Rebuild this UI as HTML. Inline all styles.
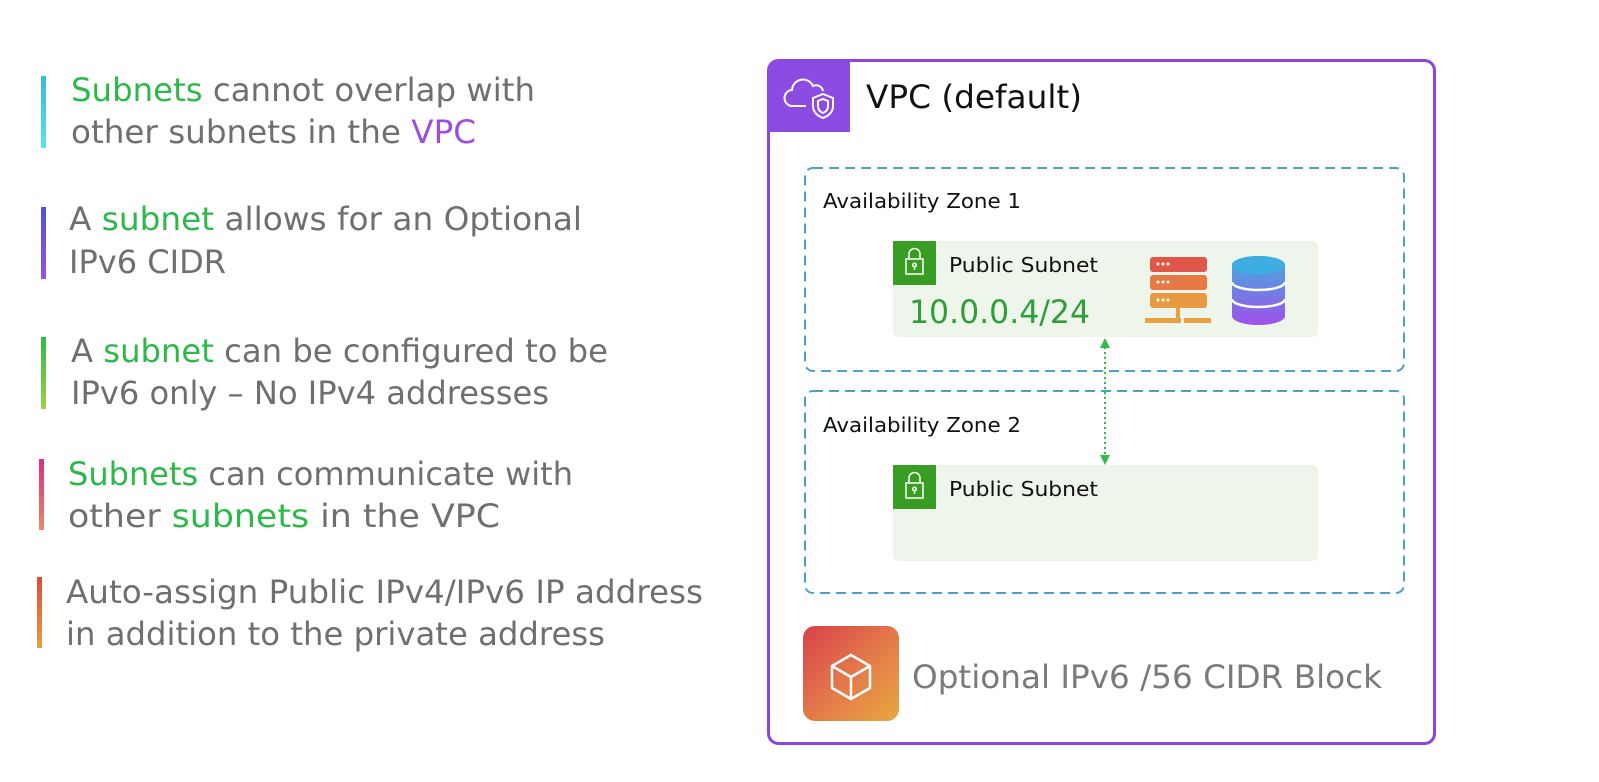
<!DOCTYPE html>
<html><head><meta charset="utf-8"><style>
html,body{margin:0;padding:0;background:#fff;}
svg{display:block;}
text{font-family:"DejaVu Sans","Liberation Sans",sans-serif;}
</style></head><body>
<svg width="1599" height="782" viewBox="0 0 1599 782" xmlns="http://www.w3.org/2000/svg">
<defs>
<linearGradient id="b1" x1="0" y1="0" x2="0" y2="1"><stop offset="0" stop-color="#36b8e8"/><stop offset="1" stop-color="#5ee0f0"/></linearGradient>
<linearGradient id="b2" x1="0" y1="0" x2="0" y2="1"><stop offset="0" stop-color="#4d55d8"/><stop offset="1" stop-color="#9a4fe0"/></linearGradient>
<linearGradient id="b3" x1="0" y1="0" x2="0" y2="1"><stop offset="0" stop-color="#2fb84a"/><stop offset="1" stop-color="#9ad24a"/></linearGradient>
<linearGradient id="b4" x1="0" y1="0" x2="0" y2="1"><stop offset="0" stop-color="#d8307a"/><stop offset="1" stop-color="#e88a6a"/></linearGradient>
<linearGradient id="b5" x1="0" y1="0" x2="0" y2="1"><stop offset="0" stop-color="#e04a3a"/><stop offset="1" stop-color="#e8a040"/></linearGradient>
<linearGradient id="ob" x1="0" y1="0" x2="1" y2="1"><stop offset="0" stop-color="#d9404a"/><stop offset="0.5" stop-color="#e3784a"/><stop offset="1" stop-color="#e8a840"/></linearGradient>
<linearGradient id="db" x1="0" y1="0" x2="0" y2="1"><stop offset="0" stop-color="#3fb0e0"/><stop offset="1" stop-color="#a050e8"/></linearGradient>
</defs>

<g font-size="32" fill="#6f6f6f">
<rect x="41" y="76" width="5" height="72" fill="url(#b1)"/>
<text x="71" y="101" textLength="464" lengthAdjust="spacingAndGlyphs"><tspan fill="#2db84a">Subnets</tspan> cannot overlap with</text>
<text x="71" y="143" textLength="405" lengthAdjust="spacingAndGlyphs">other subnets in the <tspan fill="#9b4ee0">VPC</tspan></text>

<rect x="41" y="207" width="5" height="72" fill="url(#b2)"/>
<text x="69" y="230" textLength="513" lengthAdjust="spacingAndGlyphs">A <tspan fill="#2db84a">subnet</tspan> allows for an Optional</text>
<text x="69" y="273" textLength="157" lengthAdjust="spacingAndGlyphs">IPv6 CIDR</text>

<rect x="41" y="337" width="5" height="72" fill="url(#b3)"/>
<text x="71" y="362" textLength="537" lengthAdjust="spacingAndGlyphs">A <tspan fill="#2db84a">subnet</tspan> can be configured to be</text>
<text x="71" y="404" textLength="478" lengthAdjust="spacingAndGlyphs">IPv6 only – No IPv4 addresses</text>

<rect x="39" y="459" width="5" height="71" fill="url(#b4)"/>
<text x="68" y="485" textLength="505" lengthAdjust="spacingAndGlyphs"><tspan fill="#2db84a">Subnets</tspan> can communicate with</text>
<text x="68" y="527" textLength="432" lengthAdjust="spacingAndGlyphs">other <tspan fill="#2db84a">subnets</tspan> in the VPC</text>

<rect x="37" y="577" width="5" height="71" fill="url(#b5)"/>
<text x="66" y="603" textLength="637" lengthAdjust="spacingAndGlyphs">Auto-assign Public IPv4/IPv6 IP address</text>
<text x="66" y="645" textLength="539" lengthAdjust="spacingAndGlyphs">in addition to the private address</text>
</g>

<!-- VPC -->
<rect x="768.5" y="60.5" width="666" height="683" rx="10" fill="#fff" stroke="#8a44e0" stroke-width="3"/>
<path d="M768 70 Q768 60 778 60 L850 60 L850 132 L768 132 Z" fill="#8c4be2"/>
<g fill="none" stroke="#fff" stroke-width="2">
<path d="M806 106 h-13 a8 8 0 0 1 -1 -16 a11 11 0 0 1 21 -4 a7 7 0 0 1 10 5"/>
<path d="M823 94 l10 4 v8 q0 8 -10 12 q-10 -4 -10 -12 v-8 z"/>
<path d="M823 99 l5 2 v5 q0 5 -5 7 q-5 -2 -5 -7 v-5 z"/>
</g>
<text x="866" y="108" font-size="32" fill="#111" textLength="216" lengthAdjust="spacingAndGlyphs">VPC (default)</text>

<!-- AZ1 -->
<rect x="805" y="168" width="599" height="203" rx="8" fill="none" stroke="#4aa3c7" stroke-width="2" stroke-dasharray="10 6"/>
<text x="823" y="208" font-size="20" fill="#111" textLength="198" lengthAdjust="spacingAndGlyphs">Availability Zone 1</text>
<rect x="893" y="241" width="425" height="96" rx="6" fill="#eef5ea"/>
<rect x="893" y="241" width="43" height="44" fill="#3a9d23"/>
<g fill="none" stroke="#fff" stroke-width="1.5"><rect x="906" y="259" width="17" height="15"/><path d="M909 259 v-5 a5.5 5.5 0 0 1 11 0 v5"/><circle cx="914.5" cy="265" r="1.8"/><path d="M914.5 267 v3"/></g>
<text x="949" y="272" font-size="20" fill="#111" textLength="149" lengthAdjust="spacingAndGlyphs">Public Subnet</text>
<text x="909" y="323" font-size="32" fill="#2e9e3a" textLength="181" lengthAdjust="spacingAndGlyphs">10.0.0.4/24</text>
<!-- server -->
<rect x="1150" y="257" width="57" height="15" rx="3" fill="#e0574a"/>
<rect x="1150" y="275" width="57" height="15" rx="3" fill="#e57a45"/>
<rect x="1150" y="293" width="57" height="15" rx="3" fill="#e89a42"/>
<g fill="#fff"><circle cx="1158" cy="264" r="1.5"/><circle cx="1163" cy="264" r="1.5"/><circle cx="1168" cy="264" r="1.5"/><circle cx="1158" cy="282" r="1.5"/><circle cx="1163" cy="282" r="1.5"/><circle cx="1168" cy="282" r="1.5"/><circle cx="1158" cy="300" r="1.5"/><circle cx="1163" cy="300" r="1.5"/><circle cx="1168" cy="300" r="1.5"/></g>
<rect x="1176" y="308" width="4" height="10" fill="#e8a040"/>
<rect x="1145" y="318" width="30" height="5" fill="#e8a040"/><rect x="1175" y="318" width="6" height="5" fill="#e8a040"/><rect x="1184" y="318" width="27" height="5" fill="#e8a040"/>
<!-- db -->
<path d="M1232 265 a26.5 9 0 0 1 53 0 v51 a26.5 9 0 0 1 -53 0 z" fill="url(#db)"/>
<ellipse cx="1258.5" cy="265" rx="26.5" ry="9" fill="#3eaee0"/>
<path d="M1232 282 a26.5 8 0 0 0 53 0 M1232 299 a26.5 8 0 0 0 53 0" fill="none" stroke="#fff" stroke-width="2.5"/>

<!-- AZ2 -->
<rect x="805" y="391" width="599" height="202" rx="8" fill="none" stroke="#4aa3c7" stroke-width="2" stroke-dasharray="10 6"/>
<text x="823" y="432" font-size="20" fill="#111" textLength="198" lengthAdjust="spacingAndGlyphs">Availability Zone 2</text>
<rect x="893" y="465" width="425" height="96" rx="6" fill="#eef5ea"/>
<rect x="893" y="465" width="43" height="44" fill="#3a9d23"/>
<g fill="none" stroke="#fff" stroke-width="1.5"><rect x="906" y="483" width="17" height="15"/><path d="M909 483 v-5 a5.5 5.5 0 0 1 11 0 v5"/><circle cx="914.5" cy="489" r="1.8"/><path d="M914.5 491 v3"/></g>
<text x="949" y="496" font-size="20" fill="#111" textLength="149" lengthAdjust="spacingAndGlyphs">Public Subnet</text>

<!-- arrow -->
<line x1="1105" y1="347" x2="1105" y2="456" stroke="#2ebd4a" stroke-width="2" stroke-dasharray="2 3"/>
<path d="M1100 348 L1105 338 L1110 348 Z M1100 455 L1105 465 L1110 455 Z" fill="#2ebd4a"/>

<!-- bottom -->
<rect x="803" y="626" width="96" height="95" rx="12" fill="url(#ob)"/>
<g fill="none" stroke="#fff" stroke-width="2.5" stroke-linejoin="round">
<path d="M851 655 L870 666 L870 688 L851 699 L832 688 L832 666 Z"/>
<path d="M832 666 L851 677 L870 666 M851 677 L851 699"/>
</g>
<text x="912" y="688" font-size="32" fill="#7a7a7a" textLength="470" lengthAdjust="spacingAndGlyphs">Optional IPv6 /56 CIDR Block</text>
</svg>
</body></html>
